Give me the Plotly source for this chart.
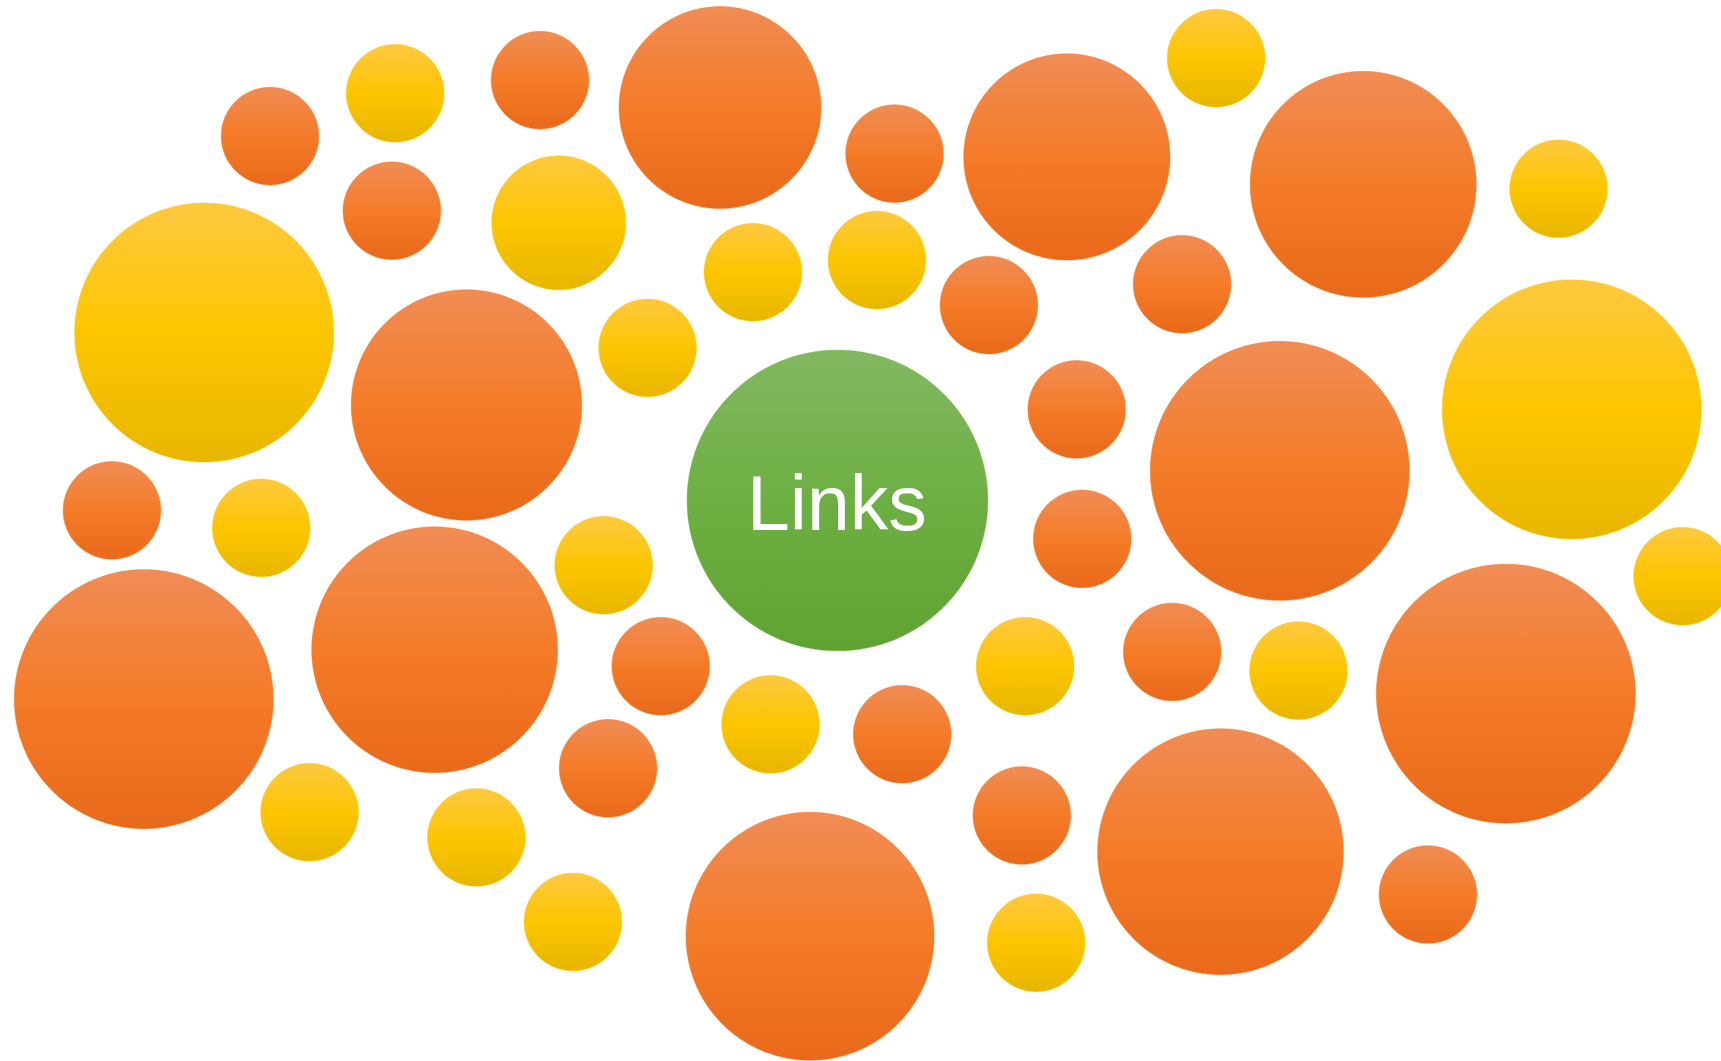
import numpy as np
import plotly.graph_objects as go

# Bubble data (centres and radii in the picture's own units, y grows downward)
orange_x = [656, 972, 1242, 425, 1166, 396, 131, 1372, 1112, 738,
            246, 492, 357, 815, 901, 1077, 981, 986, 1068, 102, 602, 554, 822, 931, 1301]
orange_y = [98, 143, 168, 369, 429, 592, 637, 632, 776, 853,
            124, 73, 192, 140, 278, 259, 373, 491, 594, 465, 607, 700, 669, 743, 815]
orange_r = [92, 94, 103, 105, 118, 112, 118, 118, 112, 113,
            44.5, 44.5, 44.5, 44.5, 44.5, 44.5, 44.5, 44.5, 44.5, 44.5, 44.5, 44.5, 44.5, 44.5, 44.5]

yellow_x = [186, 1432, 509,
            360, 1108, 1420, 686, 799, 590, 238, 550, 934, 1183, 702, 282, 434, 522, 944, 1533]
yellow_y = [303, 373, 203,
            85, 53, 172, 248, 237, 317, 481, 515, 607, 611, 660, 740, 763, 840, 859, 525]
yellow_r = [118, 118, 61,
            44.5, 44.5, 44.5, 44.5, 44.5, 44.5, 44.5, 44.5, 44.5, 44.5, 44.5, 44.5, 44.5, 44.5, 44.5, 44.5]

green_x = [763]
green_y = [456]
green_r = [137]
green_label = ["Links"]

ORANGE = [[0, "#F08C55"], [0.5, "#F47B28"], [1, "#E8691A"]]
YELLOW = [[0, "#FEC840"], [0.5, "#FDC600"], [1, "#E8B600"]]
GREEN = [[0, "#82B862"], [0.5, "#6DAF42"], [1, "#60A332"]]

W, H = 1721, 1061
XR = 1568
YR = H * XR / W

fig = go.Figure()
t = np.linspace(0, 2 * np.pi, 721)


def add_bubbles(xs, ys, rs, scale):
    for cx, cy, r in zip(xs, ys, rs):
        fig.add_trace(go.Scatter(
            x=cx + r * np.cos(t), y=cy + r * np.sin(t),
            mode="lines", fill="toself",
            line=dict(width=0.5, color=scale[1][1], simplify=False),
            fillgradient=dict(type="vertical", colorscale=scale,
                              start=cy - r, stop=cy + r),
            hoverinfo="skip", showlegend=False,
        ))


add_bubbles(orange_x, orange_y, orange_r, ORANGE)
add_bubbles(yellow_x, yellow_y, yellow_r, YELLOW)
add_bubbles(green_x, green_y, green_r, GREEN)

for lx, ly, lab in zip(green_x, green_y, green_label):
    fig.add_annotation(
        x=lx, y=ly, text=lab, showarrow=False,
        xanchor="center", yanchor="middle", yshift=-3,
        font=dict(family="Liberation Sans", size=77, color="white"),
    )

fig.update_layout(
    width=W, height=H,
    margin=dict(l=0, r=0, t=0, b=0),
    paper_bgcolor="white", plot_bgcolor="white",
    xaxis=dict(range=[0, XR], visible=False, fixedrange=True),
    yaxis=dict(range=[YR, 0], visible=False, fixedrange=True),
)

fig.write_html(
    "out.html",
    config={"displayModeBar": False},
    post_script="document.body.style.margin='0';document.body.style.overflow='hidden';",
)
